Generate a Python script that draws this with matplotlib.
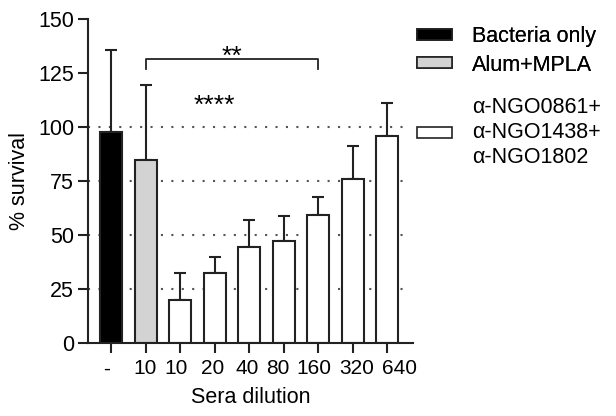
import matplotlib.pyplot as plt
import matplotlib.transforms as mtransforms
from matplotlib.patches import Patch

plt.switch_backend('Agg')
plt.rcParams['font.family'] = ['Liberation Sans', 'DejaVu Sans']

# values
tick_labels = ['-', '10', '10', '20', '40', '80', '160', '320', '640']
survival = [97.6, 84.6, 19.7, 32.2, 44.5, 47.0, 59.3, 76.0, 95.9]
err_upper = [37.9, 34.8, 12.6, 7.4, 12.3, 11.5, 8.2, 15.3, 15.2]
groups = ['Bacteria only', 'Alum+MPLA', 'α-NGO0861+\nα-NGO1438+\nα-NGO1802']
group_colors = ['black', '#d3d3d3', 'white']
bar_group = [0, 1, 2, 2, 2, 2, 2, 2, 2]
grid_levels = [25, 50, 75, 100]

# horizontal nudge (px) of each x tick label, as laid out in the original
label_shift = [-4, -1, -4, -2, -2, -6, -4, 4, 12]

FS = 15.5
EDGE = '#222222'

fig = plt.figure(figsize=(6.16, 4.16), dpi=100)
ax = fig.add_axes([0.1429, 0.1762, 0.5271, 0.7781])

x = list(range(len(survival)))
colors = [group_colors[g] for g in bar_group]

for lvl in grid_levels:
    ax.axhline(lvl, xmin=0, xmax=0.99, color='#555555', linestyle=(0, (1, 4)),
               linewidth=1.5, zorder=0)

ax.bar(x, survival, width=0.64, color=colors, edgecolor=EDGE,
       linewidth=1.5, zorder=2)
ax.errorbar(x, survival, yerr=[[0] * len(x), err_upper], fmt='none',
            ecolor=EDGE, elinewidth=1.5, capsize=4, capthick=1.5, zorder=1)

# significance bracket
ax.plot([1, 1, 6, 6], [127, 131.5, 131.5, 127], color=EDGE, linewidth=1.3)
ax.text(3.5, 129, '**', ha='center', va='baseline', fontsize=19)
ax.text(3, 106.5, '****', ha='center', va='baseline', fontsize=19)

ax.set_xlim(-0.667, 8.74)
ax.set_ylim(0, 150)
ax.set_yticks([0, 25, 50, 75, 100, 125, 150])
ax.set_xticks(x)
ax.set_xticklabels(tick_labels)
ax.tick_params(axis='both', labelsize=FS, width=1.5, length=7, color=EDGE)
ax.tick_params(axis='x', labelsize=15, pad=5)
ax.tick_params(axis='y', pad=3)
for lab, dx in zip(ax.get_xticklabels(), label_shift):
    lab.set_transform(lab.get_transform() +
                      mtransforms.ScaledTranslation(dx / 100, 0, fig.dpi_scale_trans))
for side in ['top', 'right']:
    ax.spines[side].set_visible(False)
for side in ['left', 'bottom']:
    ax.spines[side].set_linewidth(1.5)
    ax.spines[side].set_color(EDGE)

ax.set_ylabel('% survival', fontsize=FS, labelpad=6)
ax.set_xlabel('Sera dilution', fontsize=FS, labelpad=6)

handles = [Patch(facecolor=c, edgecolor=EDGE, linewidth=1.2) for c in group_colors]
leg_kw = dict(frameon=False, fontsize=FS, handlelength=1.63, handleheight=0.42,
              handletextpad=0.93, borderpad=0, borderaxespad=0, loc='center left')
leg1 = fig.legend(handles[:2], groups[:2], bbox_to_anchor=(0.6765, 0.878),
                  labelspacing=0.35, **leg_kw)
leg2 = fig.legend(handles[2:], groups[2:], bbox_to_anchor=(0.6765, 0.6815), **leg_kw)
for t in leg2.get_texts():
    t.set_linespacing(1.25)
fig.add_artist(leg1)

plt.savefig('out.png', dpi=100)
